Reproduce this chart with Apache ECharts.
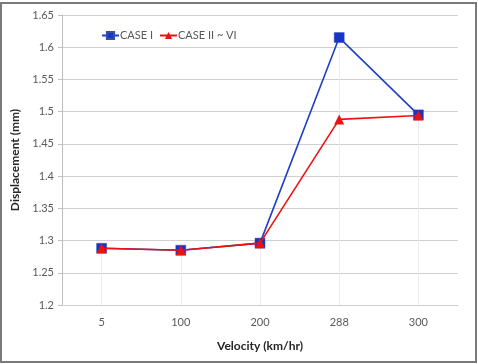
<!DOCTYPE html>
<html>
<head>
<meta charset="utf-8">
<script src="https://cdn.jsdelivr.net/npm/echarts@6/dist/echarts.min.js"></script>
<style>
  html, body { margin: 0; padding: 0; background: #fff; }
  #chart-panel { width: 478px; height: 364px; }
</style>
</head>
<body>
<div id="chart-panel"></div>
<script>
// velocity categories (km/hr)
const velocities = ['5', '100', '200', '288', '300'];
// displacement (mm)
const caseI = [1.288, 1.285, 1.296, 1.615, 1.495];
const caseII_VI = [1.288, 1.285, 1.296, 1.488, 1.494];

const axisMin = 1.2;
const axisMax = 1.65;
const axisStep = 0.05;

// light drop lines from the higher point down to the axis
const dropLines = velocities.map(function (v, i) {
  const top = Math.max(caseI[i], caseII_VI[i]);
  return [{ coord: [v, top] }, { coord: [v, axisMin] }];
});

var myChart = echarts.init(document.getElementById('chart-panel'));
const font = 'Lato, "Open Sans", sans-serif';

myChart.setOption({
  animation: false,
  textStyle: { fontFamily: font },
  graphic: [{
    type: 'rect',
    shape: { x: 1, y: 3, width: 475, height: 359 },
    style: { fill: 'none', stroke: '#7a7a7a', lineWidth: 2 },
    silent: true,
    z: -1
  }],
  legend: {
    left: 96,
    top: 25,
    itemWidth: 17,
    itemHeight: 9,
    itemGap: 6,
    textStyle: { fontSize: 11, color: '#595959', fontFamily: font, padding: [0, 0, 0, -4] },
    data: ['CASE I', 'CASE II ~ VI']
  },
  grid: {
    left: 62,
    right: 20,
    top: 15,
    bottom: 59
  },
  xAxis: {
    type: 'category',
    data: velocities,
    boundaryGap: true,
    name: 'Velocity (km/hr)',
    nameLocation: 'middle',
    nameGap: 35,
    nameTextStyle: { fontSize: 12, fontWeight: 'bold', color: '#262626', fontFamily: font },
    axisLine: { lineStyle: { color: '#d0d0d0' } },
    axisTick: { show: false },
    axisLabel: { fontSize: 11, color: '#595959', margin: 12 },
    splitLine: { show: false }
  },
  yAxis: {
    type: 'value',
    min: axisMin,
    max: axisMax,
    interval: axisStep,
    name: 'Displacement (mm)',
    nameLocation: 'middle',
    nameGap: 40,
    nameTextStyle: { fontSize: 12, fontWeight: 'bold', color: '#262626', fontFamily: font },
    axisLine: { show: true, lineStyle: { color: '#bfbfbf' } },
    axisTick: { show: true, length: 4, lineStyle: { color: '#bfbfbf' } },
    axisLabel: {
      fontSize: 11,
      color: '#595959',
      margin: 8,
      formatter: function (v) { return String(parseFloat(v.toFixed(2))); }
    },
    splitLine: { lineStyle: { color: '#d0d0d0', width: 1.2 } }
  },
  series: [
    {
      name: 'CASE I',
      type: 'line',
      data: caseI,
      symbol: 'rect',
      symbolSize: 10,
      color: '#1636c8',
      lineStyle: { width: 1.6, color: '#1f3fc4' },
      itemStyle: { color: '#1636c8', borderColor: '#3a4fa0', borderWidth: 0.5 },
      z: 2
    },
    {
      name: 'CASE II ~ VI',
      type: 'line',
      data: caseII_VI,
      symbol: 'triangle',
      symbolSize: 10,
      color: '#ee1111',
      lineStyle: { width: 1.6, color: '#ee1111' },
      itemStyle: { color: '#ee1111' },
      z: 3,
      markLine: {
        silent: true,
        symbol: 'none',
        label: { show: false },
        lineStyle: { color: '#ececec', type: 'solid', width: 1 },
        data: dropLines,
        z: 1
      }
    }
  ]
});
</script>
</body>
</html>
